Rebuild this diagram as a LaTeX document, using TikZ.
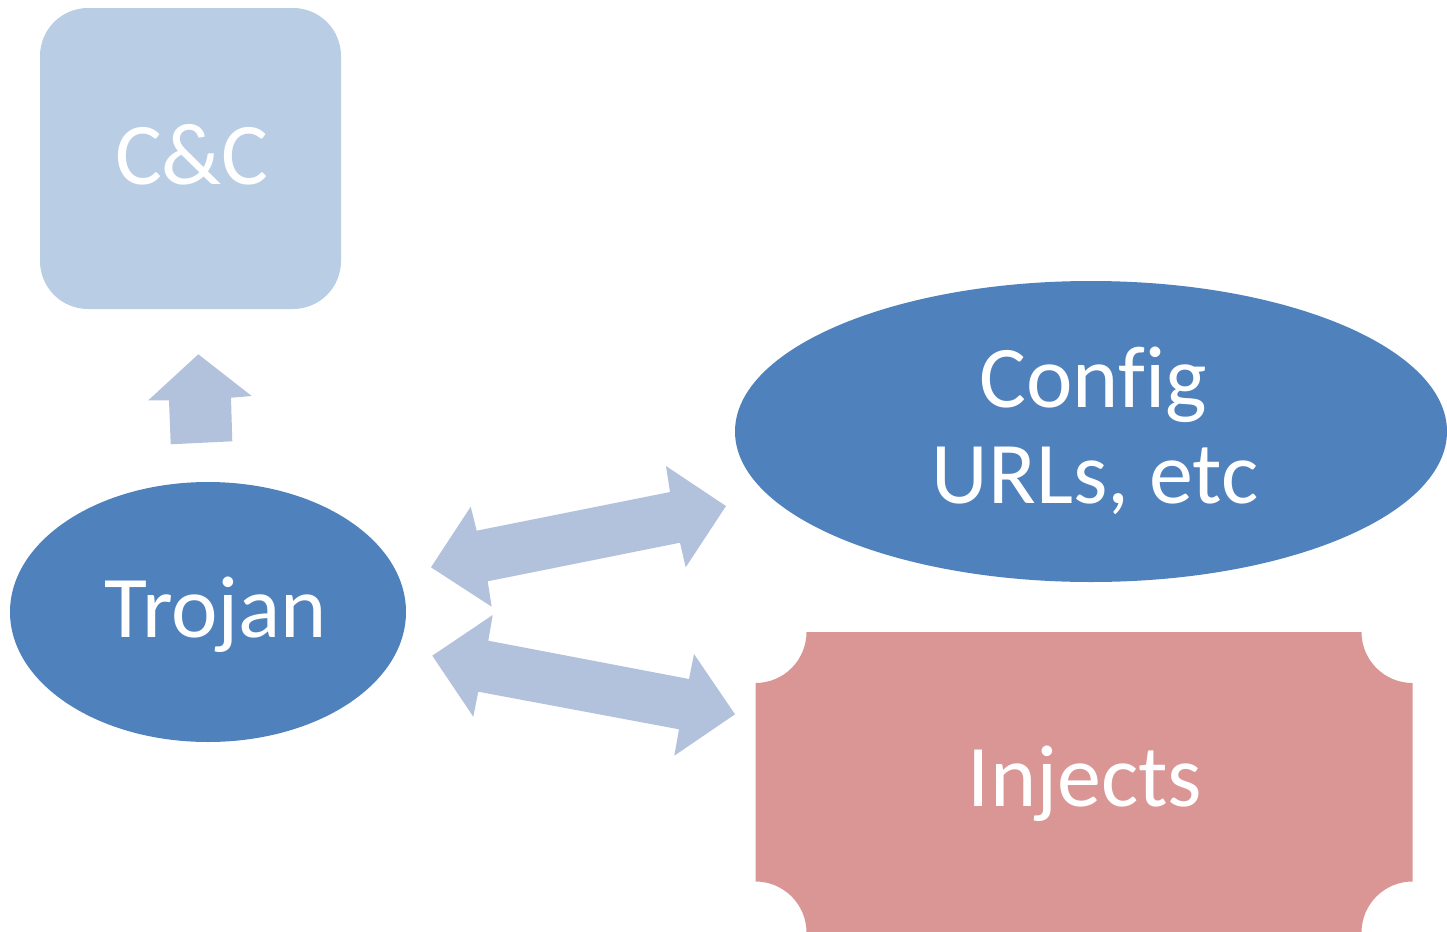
\documentclass[tikz,border=0pt]{standalone}
\usepackage{fontspec}
\setmainfont[Ligatures=NoCommon]{Carlito}
\usetikzlibrary{shapes.geometric}
\definecolor{ccfill}{HTML}{B9CDE5}
\definecolor{arrowfill}{HTML}{B2C2DD}
\definecolor{bluefill}{HTML}{4F81BD}
\definecolor{pinkfill}{HTML}{D99694}
\begin{document}
\begin{tikzpicture}[x=0.5pt,y=-0.5pt,
  lbl/.style={text=white,font=\fontsize{44}{48}\selectfont,inner sep=0pt,anchor=base},
  blockarrow/.style={fill=arrowfill},
  oval/.style={ellipse,fill=bluefill,draw=none,inner sep=0pt}]
\useasboundingbox (0,0) rectangle (1447,932);
% C&C box
\node[fill=ccfill,rounded corners=24pt,minimum width=150.5pt,minimum height=150.5pt,inner sep=0pt] (cc) at (190.5,158.5) {};
\node[lbl] (cctext) at (192,184) {C\&C};
% ellipses
\node[oval,minimum width=198pt,minimum height=130pt] (trojan) at (208,612) {};
\node[lbl] (trojantext) at (216,637) {Trojan};
\node[oval,minimum width=356pt,minimum height=150.5pt] (config) at (1091,431.5) {};
\node[lbl] (configtext) at (1093,407) {Config};
\node[lbl] (urltext) at (1095,503) {URLs, etc};
% injects plaque
\fill[pinkfill] (806.5,632) -- (1361.5,632) arc[start angle=180,end angle=90,radius=51]
  -- (1412.5,881.5) arc[start angle=270,end angle=180,radius=51]
  -- (806.5,932.5) arc[start angle=0,end angle=-90,radius=51]
  -- (755.5,683) arc[start angle=90,end angle=0,radius=51] -- cycle;
\node[lbl] (injtext) at (1085,806) {Injects};
% up arrow
\fill[blockarrow] (198.3,354.3) -- (251.7,396) -- (231,397.7) -- (232.3,441.3)
  -- (170.7,444.3) -- (169,400.3) -- (148.3,400.3) -- cycle;
% upper double arrow
\fill[blockarrow] (431,567.3) -- (470.7,506.7) -- (476.7,530.7) -- (670,492) -- (666,466)
  -- (726,506) -- (685.7,567.3) -- (680,542.7) -- (487.7,581.3) -- (491.7,606.7) -- cycle;
% lower double arrow
\fill[blockarrow] (432.3,655.7) -- (492.7,615) -- (488.3,640.7) -- (689,679) -- (694,654)
  -- (735,714.3) -- (674.3,755.7) -- (679,729.3) -- (478.3,691.7) -- (473.3,716.7) -- cycle;
\end{tikzpicture}
\end{document}
